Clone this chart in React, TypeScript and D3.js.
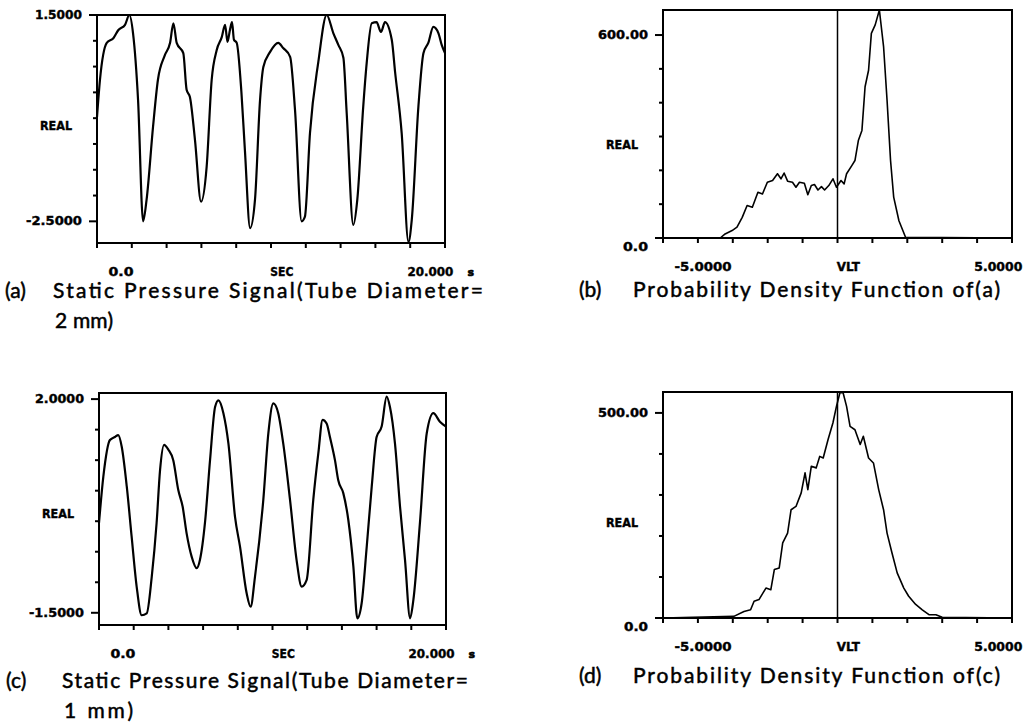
import React from 'react';
import * as d3 from 'd3';

// (a) static pressure signal, 2 mm tube  -- time in sec, value REAL
const secA = [0, 0.17, 0.56, 0.94, 1.23, 1.61, 1.86, 2.07, 2.36, 2.65, 2.85, 3.22, 3.5, 3.9, 4.2, 4.39, 4.58, 4.96, 5.15, 5.34, 5.63, 5.98, 6.3, 6.59, 6.88, 7.17, 7.36, 7.5, 7.64, 7.76, 7.87, 8.03, 8.3, 8.5, 8.8, 9.08, 9.37, 9.56, 9.94, 10.42, 10.7, 11.1, 11.38, 11.76, 11.95, 12.24, 12.72, 13.2, 13.58, 13.87, 14.16, 14.35, 14.73, 14.96, 15.3, 15.5, 15.79, 16.07, 16.32, 16.55, 16.94, 17.13, 17.51, 17.9, 18.09, 18.47, 18.76, 19.04, 19.33, 19.62, 19.81, 20];
const realA = [-0.48, 0.24, 0.96, 1.05, 1.21, 1.31, 1.5, 1.15, -0.15, -2.5, -2.08, -0.67, 0.24, 0.72, 0.96, 1.34, 0.96, 0.76, 0.05, -0.09, -0.92, -2.12, -1.45, 0.24, 0.82, 1.07, 1.31, 0.98, 1.21, 1.36, 1.02, 0.96, 0, -1.12, -2.63, -2.08, -0.15, 0.49, 0.78, 0.96, 0.86, 0.69, -0.34, -2.5, -2.41, -0.79, 0.59, 1.5, 1.15, 0.92, 0.67, -0.4, -2.57, -2.08, -0.28, 0.57, 1.34, 1.36, 1.17, 1.36, 1.02, 0.4, -0.79, -2.9, -2.47, -0.28, 0.76, 0.96, 1.27, 1.15, 0.92, 0.76];

// (b) probability density of (a)
const vltB = [-5, -3.36, -3.22, -3.02, -2.88, -2.73, -2.59, -2.44, -2.28, -2.15, -2.01, -1.86, -1.72, -1.62, -1.53, -1.43, -1.29, -1.19, -1.09, -0.95, -0.85, -0.75, -0.66, -0.56, -0.46, -0.37, -0.25, -0.13, -0.03, 0.1, 0.19, 0.26, 0.41, 0.5, 0.6, 0.7, 0.79, 0.89, 0.97, 1.08, 1.2, 1.32, 1.42, 1.52, 1.61, 1.76, 1.95, 5];
const pdfB = [0, 0, 12, 22, 32, 61, 96, 91, 135, 130, 165, 170, 190, 175, 192, 168, 165, 150, 165, 162, 128, 155, 158, 142, 152, 142, 155, 175, 150, 170, 160, 190, 214, 229, 289, 318, 447, 496, 605, 630, 674, 566, 407, 229, 121, 51, 2, 0];

// (c) static pressure signal, 1 mm tube
const secC = [0, 0.25, 0.63, 0.92, 1.11, 1.31, 1.6, 1.88, 2.17, 2.46, 2.75, 3.04, 3.32, 3.52, 3.75, 4.0, 4.28, 4.57, 4.82, 5.05, 5.34, 5.63, 5.82, 6.11, 6.4, 6.69, 6.88, 7.17, 7.46, 7.84, 8.13, 8.51, 8.74, 8.99, 9.47, 9.76, 10.05, 10.33, 10.62, 11.01, 11.39, 11.68, 11.97, 12.35, 12.64, 12.89, 13.12, 13.31, 13.6, 13.79, 14.08, 14.37, 14.66, 14.89, 15.14, 15.43, 15.72, 16.0, 16.29, 16.58, 16.77, 17.06, 17.35, 17.64, 17.93, 18.12, 18.5, 18.89, 19.27, 19.65, 20];
const realC = [-0.03, 0.73, 1.33, 1.38, 1.41, 1.22, 0.57, -0.25, -1.07, -1.54, -1.51, -0.91, -0.03, 0.84, 1.25, 1.17, 1.0, 0.51, 0.24, -0.2, -0.58, -0.77, -0.63, -0.02, 1.0, 1.87, 1.98, 1.77, 1.27, 0.07, -0.42, -1.18, -1.4, -0.91, 0.35, 1.44, 1.93, 1.77, 1.27, 0.35, -0.64, -1.07, -0.96, 0.35, 1.11, 1.66, 1.6, 1.38, 1.0, 0.67, 0.46, 0.02, -0.74, -1.59, -1.34, -0.42, 0.57, 1.38, 1.55, 2.04, 1.87, 1.27, 0.24, -0.64, -1.59, -1.29, -0.02, 1.44, 1.77, 1.63, 1.55];

// (d) probability density of (c)
const vltD = [-5, -2.97, -2.68, -2.49, -2.39, -2.25, -2.05, -1.91, -1.81, -1.67, -1.57, -1.43, -1.33, -1.19, -1.04, -0.93, -0.85, -0.75, -0.61, -0.51, -0.41, -0.27, -0.13, -0.03, 0.07, 0.16, 0.26, 0.36, 0.5, 0.65, 0.74, 0.89, 1.03, 1.18, 1.32, 1.42, 1.56, 1.71, 1.9, 2.04, 2.24, 2.43, 2.62, 2.82, 3.0, 5];
const pdfD = [0, 4, 16, 20, 41, 45, 73, 69, 118, 122, 183, 207, 264, 272, 305, 354, 313, 370, 366, 394, 390, 435, 476, 516, 549, 549, 516, 467, 459, 423, 443, 390, 378, 313, 264, 207, 159, 110, 73, 53, 33, 20, 8, 8, 2, 0];

// axis ticks and labels
const ticksA = d3.range(-2.5, 1.51, 0.5);
const ticksC = d3.range(-1.5, 2.01, 0.5);
const ticksB = d3.range(0, 601, 100);
const ticksD = d3.range(0, 501, 100);
const yLabA = [{ v: 1.5, t: '1.5000', w: 47 }, { v: -2.5, t: '-2.5000', w: 56 }];
const yLabC = [{ v: 2.0, t: '2.0000', w: 49 }, { v: -1.5, t: '-1.5000', w: 55 }];
const yLabB = [{ v: 600, t: '600.00', w: 50 }, { v: 0, t: '0.0', w: 25, dy: 9 }];
const yLabD = [{ v: 500, t: '500.00', w: 50 }, { v: 0, t: '0.0', w: 24, dy: 9 }];
const xLabTime = [{ t: '0.0', w: 25 }, { t: 'SEC', w: 23 }, { t: '20.000', w: 46, unit: 's' }];
const xLabVolt = [{ t: '-5.0000', w: 57 }, { t: 'VLT', w: 23 }, { t: '5.0000', w: 48 }];

const tickFont = "'DejaVu Sans', Arial, sans-serif";
const capFont = "Lato, 'Noto Sans', sans-serif";

function Panel(props: any) {
  const { box, xDomain, yDomain, xs, ys, yTicks, yLabels, xLabels, zeroLine, curve, sw, realAt } = props;
  const x = d3.scaleLinear().domain(xDomain).range([box.x0, box.x1]);
  const y = d3.scaleLinear().domain(yDomain).range([box.y1, box.y0]);
  const pts = xs.map((d: number, i: number) => [d, ys[i]]);
  const line = d3.line<number[]>().x(d => x(d[0])).y(d => y(d[1])).curve(curve);
  const xTicks = d3.range(0, 11).map(i => xDomain[0] + (i * (xDomain[1] - xDomain[0])) / 10);
  const labelled = yLabels.map((l: any) => l.v);
  const w = box.x1 - box.x0;
  const fracs = [0.033, 0.498, 0.892];

  return (
    <g>
      <rect x={box.x0} y={box.y0} width={w} height={box.y1 - box.y0} fill="none" stroke="#000" strokeWidth={2} />
      {yTicks.map((t: number, i: number) => {
        const big = labelled.some((v: number) => Math.abs(v - t) < 1e-6);
        return <line key={'yt' + i} x1={box.x0 - (big ? 8 : 4)} x2={box.x0} y1={y(t)} y2={y(t)} stroke="#000" strokeWidth={2} />;
      })}
      {xTicks.map((t: number, i: number) => (
        <line key={'xt' + i} x1={x(t)} x2={x(t)} y1={box.y1} y2={box.y1 + 5} stroke="#000" strokeWidth={2} />
      ))}
      {zeroLine && <line x1={x(0)} x2={x(0)} y1={box.y0} y2={box.y1} stroke="#000" strokeWidth={1.5} />}
      <path d={line(pts) || ''} fill="none" stroke="#000" strokeWidth={sw} strokeLinejoin="round" />
      {yLabels.map((l: any, i: number) => (
        <text key={'yl' + i} x={box.x0 - 15 - l.w} y={y(l.v) + 4 + (l.dy || 0)} textLength={l.w} lengthAdjust="spacingAndGlyphs"
          fontFamily={tickFont} fontWeight="bold" fontSize={12} stroke="#000" strokeWidth={0.4}>{l.t}</text>
      ))}
      <text x={box.x0 - 57} y={box.y0 + realAt * (box.y1 - box.y0) + 4} textLength={32} lengthAdjust="spacingAndGlyphs"
        fontFamily={tickFont} fontWeight="bold" fontSize={12} stroke="#000" strokeWidth={0.4}>REAL</text>
      {xLabels.map((l: any, i: number) => (
        <g key={'xl' + i}>
          <text x={box.x0 + fracs[i] * w} y={box.y1 + 33} textLength={l.w} lengthAdjust="spacingAndGlyphs"
            fontFamily={tickFont} fontWeight="bold" fontSize={12} stroke="#000" strokeWidth={0.4}>{l.t}</text>
          {l.unit && (
            <text x={box.x0 + fracs[i] * w + l.w + 14} y={box.y1 + 33} fontFamily={tickFont} fontWeight="bold" fontSize={11}
              stroke="#000" strokeWidth={0.6}>{l.unit}</text>
          )}
        </g>
      ))}
    </g>
  );
}

function Caption({ tag, tagX, x, w, y, text, line2, line2W }: any) {
  return (
    <g fontFamily={capFont} fontSize={21} fill="#000" stroke="#000" strokeWidth={0.5}>
      <text x={tagX} y={y}>{tag}</text>
      <text x={x} y={y} textLength={w} lengthAdjust="spacing">{text}</text>
      {line2 && <text x={x + 2} y={y + 30} textLength={line2W} lengthAdjust="spacing">{line2}</text>}
    </g>
  );
}

export default function App() {
  return (
    <svg width={1036} height={722} style={{ position: 'absolute', left: 0, top: 0, background: '#fff' }}>
      <rect width={1036} height={722} fill="#fff" />
      <Panel box={{ x0: 97, x1: 445, y0: 15, y1: 243 }} xDomain={[0, 20]} yDomain={[-2.92, 1.5]}
        xs={secA} ys={realA} yTicks={ticksA} yLabels={yLabA} xLabels={xLabTime}
        curve={d3.curveMonotoneX} sw={2.2} realAt={0.487} />
      <Panel box={{ x0: 663, x1: 1012, y0: 10, y1: 238 }} xDomain={[-5, 5]} yDomain={[0, 674]}
        xs={vltB} ys={pdfB} yTicks={ticksB} yLabels={yLabB} xLabels={xLabVolt} zeroLine
        curve={d3.curveLinear} sw={1.6} realAt={0.59} />
      <Panel box={{ x0: 99, x1: 446, y0: 393, y1: 625 }} xDomain={[0, 20]} yDomain={[-1.7, 2.1]}
        xs={secC} ys={realC} yTicks={ticksC} yLabels={yLabC} xLabels={xLabTime}
        curve={d3.curveMonotoneX} sw={2.2} realAt={0.52} />
      <Panel box={{ x0: 663, x1: 1012, y0: 392, y1: 618 }} xDomain={[-5, 5]} yDomain={[0, 551]}
        xs={vltD} ys={pdfD} yTicks={ticksD} yLabels={yLabD} xLabels={xLabVolt} zeroLine
        curve={d3.curveLinear} sw={1.6} realAt={0.58} />

      <Caption tag="(a)" tagX={5} x={53} w={430} y={298} text="Static Pressure Signal(Tube Diameter=" line2="2 mm)" line2W={58} />
      <Caption tag="(b)" tagX={579} x={633} w={367} y={297} text="Probability Density Function of(a)" />
      <Caption tag="(c)" tagX={6} x={62} w={406} y={688} text="Static Pressure Signal(Tube Diameter=" line2="1 mm)" line2W={69} />
      <Caption tag="(d)" tagX={579} x={633} w={367} y={683} text="Probability Density Function of(c)" />
    </svg>
  );
}
